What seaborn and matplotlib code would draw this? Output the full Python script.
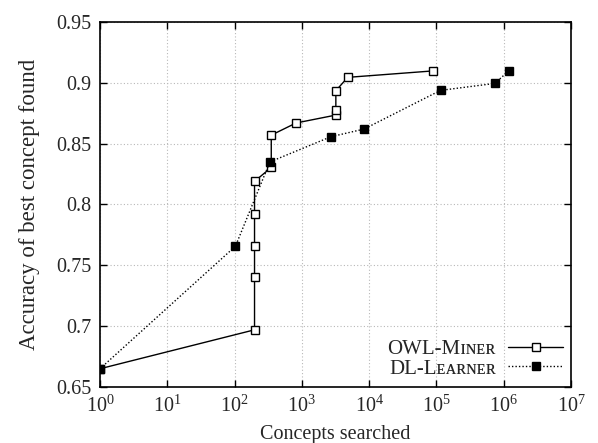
import numpy as np
import pandas as pd
import matplotlib
matplotlib.use("Agg")
import matplotlib.pyplot as plt
import seaborn as sns
from matplotlib.ticker import FixedLocator, FuncFormatter, NullLocator
from matplotlib.lines import Line2D

# ---- data ----
owl_label = "OWL-M\u026a\u0274\u1d07\u0280"
dl_label = "DL-L\u1d07\u1d00\u0280\u0274\u1d07\u0280"
owl_x = [1, 198, 198, 198, 198, 198, 351, 351, 820, 3200, 3200, 3200, 4800, 89000]
owl_y = [0.665, 0.697, 0.740, 0.766, 0.792, 0.819, 0.8305, 0.857, 0.867, 0.8735, 0.878, 0.8935, 0.9045, 0.9098]
dl_x = [1, 103, 335, 2700, 8400, 115000, 735000, 1200000]
dl_y = [0.665, 0.7657, 0.835, 0.8557, 0.862, 0.8938, 0.8995, 0.910]
y_ticks = [0.65, 0.7, 0.75, 0.8, 0.85, 0.9, 0.95]
x_ticks = [1e0, 1e1, 1e2, 1e3, 1e4, 1e5, 1e6, 1e7]
x_title = "Concepts searched"
y_title = "Accuracy of best concept found"

sns.set_style("ticks")
plt.rcParams["font.family"] = ["Liberation Serif", "DejaVu Serif"]
plt.rcParams["mathtext.fontset"] = "custom"
plt.rcParams["mathtext.rm"] = "Liberation Serif"
plt.rcParams["mathtext.it"] = "Liberation Serif:italic"
plt.rcParams["mathtext.bf"] = "Liberation Serif:bold"

fs = 14.5

fig = plt.figure(figsize=(5.98, 4.43), dpi=100)
ax = fig.add_axes([100 / 598, 1 - 387 / 443, 471 / 598, 365 / 443])

sns.lineplot(x=owl_x, y=owl_y, ax=ax, estimator=None, sort=False,
             color="black", linewidth=1.0, linestyle="-",
             marker="s", markersize=6, markerfacecolor="white",
             markeredgecolor="black", markeredgewidth=1.0)
sns.lineplot(x=dl_x, y=dl_y, ax=ax, estimator=None, sort=False,
             color="black", linewidth=1.0, linestyle=(0, (1, 1.5)),
             marker="s", markersize=6, markerfacecolor="black",
             markeredgecolor="black", markeredgewidth=1.0)

ax.set_xscale("log")
ax.set_xlim(1, 1e7)
ax.set_ylim(0.65, 0.95)
ax.xaxis.set_major_locator(FixedLocator(x_ticks))
ax.xaxis.set_minor_locator(NullLocator())
ax.xaxis.set_major_formatter(FuncFormatter(lambda v, p: r"$10^{%d}$" % int(round(np.log10(v)))))
ax.yaxis.set_major_locator(FixedLocator(y_ticks))
ax.yaxis.set_major_formatter(FuncFormatter(lambda v, p: "%g" % v))

ax.grid(True, which="major", color="#b8b8b8", linestyle=(0, (1, 2)), linewidth=0.8)
ax.tick_params(axis="both", which="major", direction="in", length=5, width=1,
               top=True, right=True, labelsize=fs, pad=6, color="black")
for s in ax.spines.values():
    s.set_linewidth(1.2)
    s.set_color("black")
    s.set_visible(True)

ax.set_xlabel(x_title, fontsize=fs, labelpad=6)
ax.set_ylabel(y_title, fontsize=16.5, labelpad=12)

handles = [
    Line2D([], [], color="black", linewidth=1.0, linestyle="-", marker="s",
           markersize=6, markerfacecolor="white", markeredgecolor="black"),
    Line2D([], [], color="black", linewidth=1.0, linestyle=(0, (1, 1.5)), marker="s",
           markersize=6, markerfacecolor="black", markeredgecolor="black"),
]
ax.legend(handles, [owl_label, dl_label], loc="lower right", frameon=False,
          markerfirst=False, handlelength=2.6, fontsize=15, labelspacing=0.0,
          borderaxespad=0.0, handletextpad=0.6, numpoints=1)

fig.savefig("out.png", dpi=100)
